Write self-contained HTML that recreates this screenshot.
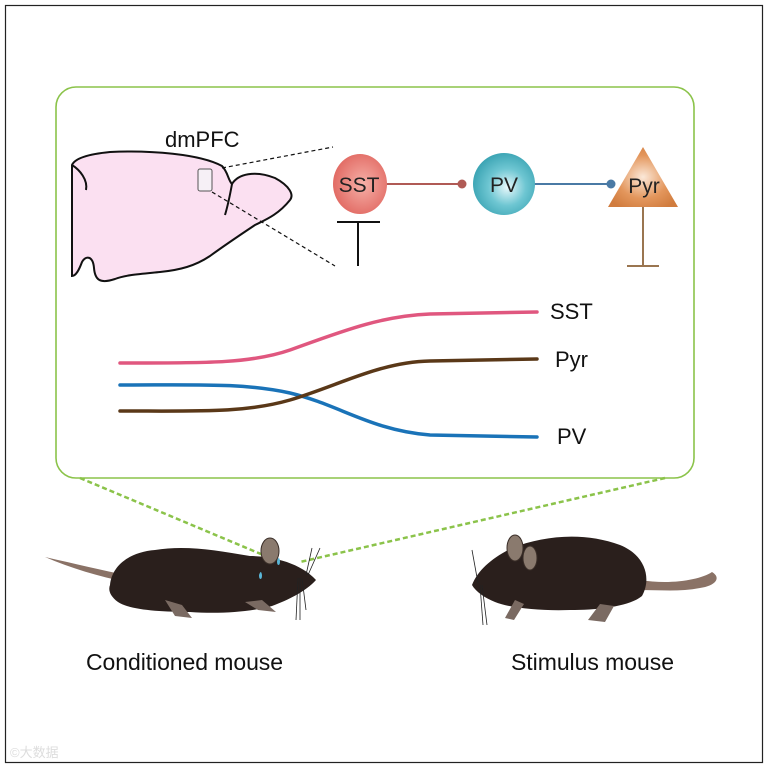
<!DOCTYPE html>
<html><head><meta charset="utf-8"><style>
html,body{margin:0;padding:0;background:#fff}
svg{display:block}
text{font-family:"Liberation Sans",Arial,sans-serif}
</style></head><body>
<svg width="768" height="768" viewBox="0 0 768 768" xmlns="http://www.w3.org/2000/svg">
<defs>
<radialGradient id="gs" cx="0.55" cy="0.5" r="0.6"><stop offset="0" stop-color="#f6b0a8"/><stop offset="1" stop-color="#e0655e"/></radialGradient>
<radialGradient id="gp" cx="0.55" cy="0.55" r="0.6"><stop offset="0" stop-color="#e8f8fb"/><stop offset="0.5" stop-color="#6ec6d2"/><stop offset="1" stop-color="#35a0b0"/></radialGradient>
<radialGradient id="gy" cx="0.5" cy="0.5" r="0.6"><stop offset="0" stop-color="#fbe8d8"/><stop offset="0.6" stop-color="#e3965c"/><stop offset="1" stop-color="#d17c3e"/></radialGradient>
</defs>
<rect x="5.5" y="5.5" width="757" height="757" fill="#fff" stroke="#222" stroke-width="1.2"/>
<rect x="56" y="87" width="638" height="391" rx="20" fill="#fff" stroke="#8bc34a" stroke-width="1.6"/>
<!-- brain -->
<path d="M72,165 C75,158 90,154 110,152 C150,150 200,154 222,166 C228,172 228,180 232,184 C238,174 255,170 275,178 C290,186 294,195 290,200 C278,215 265,220 255,225 C240,235 225,245 210,256 C195,266 180,270 160,272 C140,274 125,275 115,279 C100,284 95,280 94,268 C93,256 86,255 82,262 C79,270 76,276 72,276 Z" fill="#fbe0f1" stroke="#111" stroke-width="2"/>
<path d="M72,165 C80,170 88,180 86,190" fill="none" stroke="#111" stroke-width="2"/>
<path d="M232,184 C230,195 228,205 225,215" fill="none" stroke="#111" stroke-width="2"/>
<rect x="198" y="169" width="14" height="22" rx="2" fill="#f6f0f6" stroke="#555" stroke-width="1"/>
<line x1="222" y1="168" x2="333" y2="147" stroke="#111" stroke-dasharray="4,3" stroke-width="1.2"/>
<line x1="212" y1="192" x2="335" y2="266" stroke="#111" stroke-dasharray="4,3" stroke-width="1.2"/>
<text x="165" y="147" font-size="22" fill="#111">dmPFC</text>
<!-- circuit -->
<line x1="386" y1="184" x2="462" y2="184" stroke="#b05a55" stroke-width="2"/>
<circle cx="462" cy="184" r="4.5" fill="#b05a55"/>
<line x1="534" y1="184" x2="611" y2="184" stroke="#4a7aa5" stroke-width="2"/>
<circle cx="611" cy="184" r="4.5" fill="#4a7aa5"/>
<ellipse cx="360" cy="184" rx="27" ry="30" fill="url(#gs)"/>
<text x="359" y="192" font-size="21" text-anchor="middle" fill="#222">SST</text>
<ellipse cx="504" cy="184" rx="31" ry="31" fill="url(#gp)"/>
<text x="504" y="192" font-size="21" text-anchor="middle" fill="#222">PV</text>
<polygon points="643,147 678,207 608,207" fill="url(#gy)"/>
<text x="644" y="193" font-size="21" text-anchor="middle" fill="#222">Pyr</text>
<line x1="358" y1="222" x2="358" y2="266" stroke="#111" stroke-width="2"/>
<line x1="337" y1="222" x2="380" y2="222" stroke="#111" stroke-width="2"/>
<line x1="643" y1="207" x2="643" y2="266" stroke="#9a7550" stroke-width="2"/>
<line x1="627" y1="266" x2="659" y2="266" stroke="#9a7550" stroke-width="2"/>
<!-- traces -->
<path d="M120,363 C200,363 250,364 290,350 C340,332 380,316 430,314 L537,312" fill="none" stroke="#e0577f" stroke-width="3.5" stroke-linecap="round"/>
<path d="M120,385 C200,385 245,383 290,393 C340,405 370,430 430,435 L537,437" fill="none" stroke="#1a73b8" stroke-width="3.5" stroke-linecap="round"/>
<path d="M120,411 C200,411 245,413 290,400 C340,385 380,362 430,361 L537,359" fill="none" stroke="#5a3818" stroke-width="3.5" stroke-linecap="round"/>
<text x="550" y="319" font-size="22" fill="#111">SST</text>
<text x="555" y="367" font-size="22" fill="#111">Pyr</text>
<text x="557" y="444" font-size="22" fill="#111">PV</text>
<!-- dashed lines -->
<line x1="80" y1="478" x2="268" y2="557" stroke="#8bc34a" stroke-width="2.5" stroke-dasharray="5,3"/>
<line x1="665" y1="478" x2="300" y2="562" stroke="#8bc34a" stroke-width="2.5" stroke-dasharray="5,3"/>
<!-- conditioned mouse -->
<path d="M45,557 C80,565 110,572 140,578 L145,585 C110,580 75,570 45,557 Z" fill="#8a7266"/>
<path d="M110,585 C112,565 130,552 155,550 C185,545 215,550 250,556 C270,556 300,562 316,580 C305,592 288,600 272,606 C250,612 220,614 190,612 C160,612 130,610 118,602 C110,596 108,590 110,585 Z" fill="#2a1f1c"/>
<path d="M165,600 L175,616 L192,618 L182,605 Z" fill="#7a6a62"/>
<path d="M245,602 L258,610 L276,612 L262,600 Z" fill="#7a6a62"/>
<ellipse cx="270" cy="551" rx="9" ry="13" fill="#8a7a6e" stroke="#3a2e28"/>
<path d="M259,575 q2,-6 3,0 q0,4 -1.5,4 q-1.5,0 -1.5,-4z M277,561 q2,-6 3,0 q0,4 -1.5,4 q-1.5,0 -1.5,-4z" fill="#5ab7d8"/>
<g stroke="#222" stroke-width="0.8"><line x1="298" y1="578" x2="296" y2="620"/><line x1="300" y1="578" x2="300" y2="620"/><line x1="302" y1="578" x2="306" y2="610"/><line x1="308" y1="575" x2="320" y2="548"/><line x1="306" y1="575" x2="312" y2="548"/></g>
<!-- stimulus mouse -->
<path d="M640,580 C670,585 700,580 712,572 C722,578 715,586 700,588 C680,592 660,590 640,590 Z" fill="#8a7266"/>
<path d="M472,585 C478,570 492,558 512,548 C545,535 585,532 620,545 C645,555 652,578 642,596 C630,606 600,610 570,610 C540,611 510,608 495,602 C485,598 476,592 472,585 Z" fill="#2a1f1c"/>
<path d="M515,600 L505,618 L514,620 L524,604 Z" fill="#7a6a62"/>
<path d="M600,604 L588,620 L605,622 L614,606 Z" fill="#7a6a62"/>
<ellipse cx="515" cy="548" rx="8" ry="13" fill="#8a7a6e" stroke="#3a2e28"/>
<ellipse cx="530" cy="558" rx="7" ry="12" fill="#8a7a6e" stroke="#3a2e28"/>
<g stroke="#222" stroke-width="0.8"><line x1="480" y1="585" x2="483" y2="625"/><line x1="482" y1="585" x2="487" y2="625"/><line x1="478" y1="583" x2="472" y2="550"/></g>
<text x="86" y="670" font-size="23" fill="#111" textLength="197">Conditioned mouse</text>
<text x="511" y="670" font-size="23" fill="#111" textLength="163">Stimulus mouse</text>
<text x="10" y="757" font-size="13" fill="#ddd" font-family="'Noto Sans CJK SC',sans-serif">©大数据</text>
</svg>
</body></html>
